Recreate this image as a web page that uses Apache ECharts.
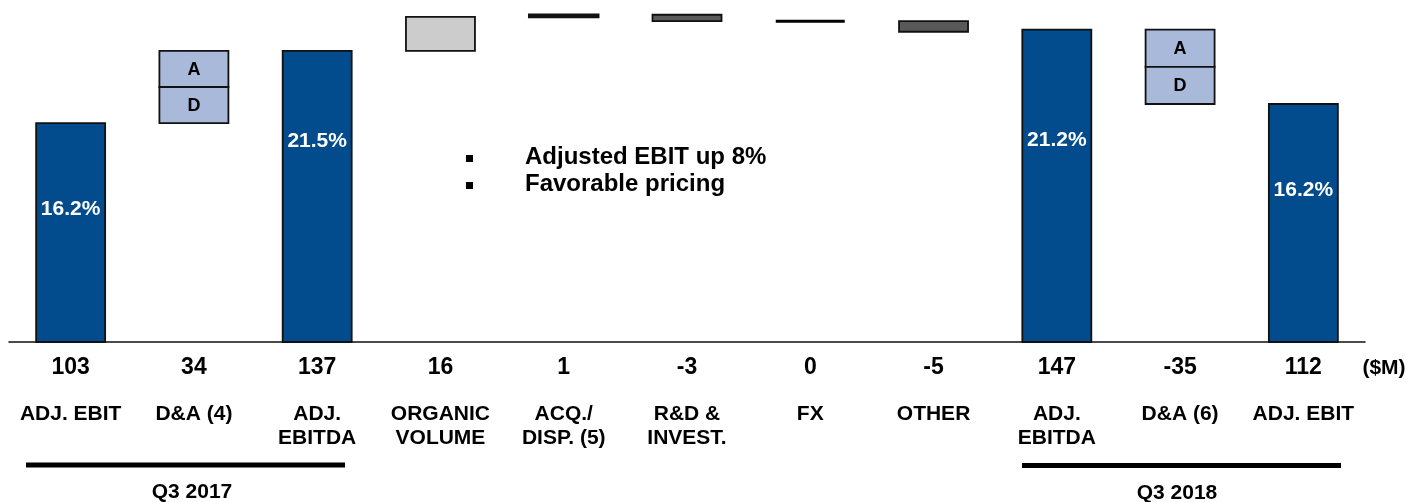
<!DOCTYPE html>
<html>
<head>
<meta charset="utf-8">
<script src="https://cdn.jsdelivr.net/npm/echarts@6/dist/echarts.min.js"></script>
<style>
  html, body { margin: 0; padding: 0; background: #ffffff; }
  #chart { width: 1407px; height: 502px; }
</style>
</head>
<body>
<div id="chart"></div>
<script>
// ---- data ----
const categories = ['ADJ. EBIT', 'D&A (4)', 'ADJ.\nEBITDA', 'ORGANIC\nVOLUME', 'ACQ./\nDISP. (5)', 'R&D &\nINVEST.', 'FX', 'OTHER', 'ADJ.\nEBITDA', 'D&A (6)', 'ADJ. EBIT'];
const values = [103, 34, 137, 16, 1, -3, 0, -5, 147, -35, 112];
const barKinds = ['total', 'da', 'total', 'delta', 'delta', 'delta', 'delta', 'delta', 'total', 'da', 'total'];
const valueLabels = ['103', '34', '137', '16', '1', '-3', '0', '-5', '147', '-35', '112'];
const marginLabels = ['16.2%', '', '21.5%', '', '', '', '', '', '21.2%', '', '16.2%'];
const bulletPoints = ['Adjusted EBIT up 8%', 'Favorable pricing'];
const periodLabels = ['Q3 2017', 'Q3 2018'];
const unitLabel = '($M)';

// ---- layout (not data) ----
const marginLabelOffset = [86, 0, 90, 0, 0, 0, 0, 0, 111, 0, 86];
const FONT = 'Liberation Sans, Arial, Helvetica, sans-serif';
const C = {
  blue: '#024B8C',
  da: '#A9B9DA',
  pos: '#CCCCCC',
  neg: '#595959',
  border: '#111111'
};

// build floating ranges through running totals
const ranges = [];
let run = 0;
values.forEach((v, i) => {
  let low, high;
  if (barKinds[i] === 'total') { low = 0; high = v; run = v; }
  else {
    if (v >= 0) { low = run; high = run + v; } else { low = run + v; high = run; }
    run += v;
  }
  ranges.push([i, low, high]);
});

const chart = echarts.init(document.getElementById('chart'), null, { renderer: 'canvas' });

const option = {
  animation: false,
  backgroundColor: '#ffffff',
  grid: { left: 9, right: 42, top: 2, bottom: 160, containLabel: false },
  xAxis: [
    {
      type: 'category',
      data: valueLabels,
      position: 'bottom',
      axisLine: { show: true, lineStyle: { color: '#111', width: 1.5 } },
      axisTick: { show: false },
      axisLabel: {
        interval: 0, margin: 12, color: '#000', fontFamily: FONT,
        fontWeight: 'bold', fontSize: 23, lineHeight: 28
      }
    },
    {
      type: 'category',
      data: categories,
      position: 'bottom',
      offset: 0,
      axisLine: { show: false },
      axisTick: { show: false },
      axisLabel: {
        interval: 0, margin: 60, color: '#000', fontFamily: FONT,
        fontWeight: 'bold', fontSize: 21, lineHeight: 24
      }
    }
  ],
  yAxis: { type: 'value', min: 0, max: 160, show: false, splitLine: { show: false } },
  series: [{
    type: 'custom',
    xAxisIndex: 0,
    data: ranges,
    encode: { x: 0, y: [1, 2] },
    renderItem: function (params, api) {
      const i = api.value(0), low = api.value(1), high = api.value(2);
      const kind = barKinds[i];
      const pTop = api.coord([i, high]);
      const pBot = api.coord([i, low]);
      const w = 69;
      const x = pTop[0] - w / 2;
      const h = pBot[1] - pTop[1];
      const children = [];
      if (kind === 'total') {
        children.push({ type: 'rect', shape: { x: x, y: pTop[1], width: w, height: h },
          style: { fill: C.blue, stroke: C.border, lineWidth: 1.8 } });
        if (marginLabels[i]) {
          children.push({ type: 'text', style: {
            text: marginLabels[i], x: pTop[0], y: pTop[1] + marginLabelOffset[i],
            fill: '#fff', font: 'bold 21px ' + FONT, align: 'center', verticalAlign: 'middle' } });
        }
      } else if (kind === 'da') {
        const mid = (pTop[1] + pBot[1]) / 2;
        children.push({ type: 'rect', shape: { x: x, y: pTop[1], width: w, height: mid - pTop[1] },
          style: { fill: C.da, stroke: C.border, lineWidth: 1.8 } });
        children.push({ type: 'rect', shape: { x: x, y: mid, width: w, height: pBot[1] - mid },
          style: { fill: C.da, stroke: C.border, lineWidth: 1.8 } });
        children.push({ type: 'text', style: { text: 'A', x: pTop[0], y: (pTop[1] + mid) / 2 + 1,
          fill: '#000', font: 'bold 18px ' + FONT, align: 'center', verticalAlign: 'middle' } });
        children.push({ type: 'text', style: { text: 'D', x: pTop[0], y: (mid + pBot[1]) / 2 + 1,
          fill: '#000', font: 'bold 18px ' + FONT, align: 'center', verticalAlign: 'middle' } });
      } else {
        const v = values[i];
        if (h < 0.5) {
          children.push({ type: 'line', shape: { x1: x, y1: pTop[1], x2: x + w, y2: pTop[1] },
            style: { stroke: '#000', lineWidth: 3 } });
        } else {
          children.push({ type: 'rect', shape: { x: x, y: pTop[1], width: w, height: h },
            style: { fill: v >= 0 ? C.pos : C.neg, stroke: C.border, lineWidth: v >= 0 && h < 4 ? 2.5 : 1.8 } });
        }
      }
      return { type: 'group', children: children };
    }
  }],
  graphic: [
    { type: 'rect', left: 466, top: 155, shape: { width: 7, height: 7 }, style: { fill: '#000' } },
    { type: 'rect', left: 466, top: 182, shape: { width: 7, height: 7 }, style: { fill: '#000' } },
    { type: 'text', left: 525, top: 145, style: { text: bulletPoints[0], fill: '#000', font: 'bold 24px ' + FONT } },
    { type: 'text', left: 525, top: 172, style: { text: bulletPoints[1], fill: '#000', font: 'bold 24px ' + FONT } },
    { type: 'text', x: 1384, y: 368, style: { text: unitLabel, fill: '#000', font: 'bold 21px ' + FONT, align: 'center', verticalAlign: 'middle' } },
    { type: 'rect', shape: { x: 26, y: 462.5, width: 319, height: 5 }, style: { fill: '#000' } },
    { type: 'rect', shape: { x: 1022, y: 463, width: 319, height: 5 }, style: { fill: '#000' } },
    { type: 'text', x: 192, y: 492, style: { text: periodLabels[0], fill: '#000', font: 'bold 21px ' + FONT, align: 'center', verticalAlign: 'middle' } },
    { type: 'text', x: 1177, y: 493, style: { text: periodLabels[1], fill: '#000', font: 'bold 21px ' + FONT, align: 'center', verticalAlign: 'middle' } }
  ]
};

chart.setOption(option);
</script>
</body>
</html>
